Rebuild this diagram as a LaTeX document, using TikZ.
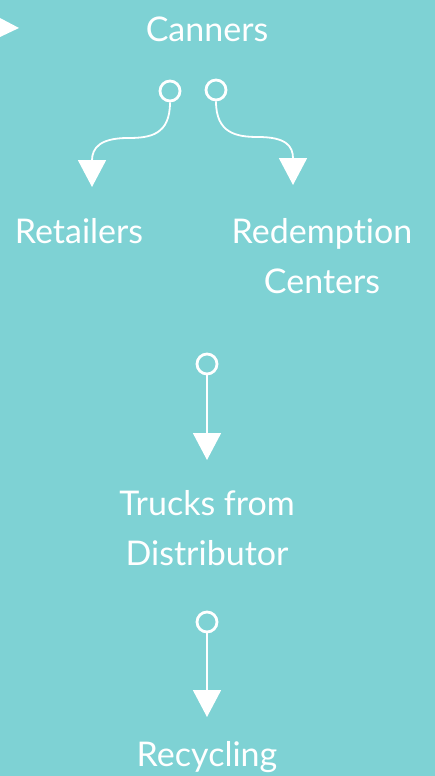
\documentclass[tikz,border=0pt]{standalone}
\usepackage{fontspec}
\setmainfont[Ligatures={NoCommon,NoRare}]{Lato}
\usetikzlibrary{arrows.meta}
\definecolor{bg}{RGB}{126,210,212}
\tikzset{
  lbl/.style={text=white, font=\fontsize{34}{34}\selectfont, anchor=base, inner sep=0pt},
  ring/.style={circle, draw=white, line width=2.8pt, minimum size=20pt, inner sep=0pt},
  conn/.style={draw=white, line width=1.8pt, -{Triangle[width=28pt,length=27pt]}},
}
\begin{document}
\begin{tikzpicture}[x=1pt,y=-1pt]
\fill[bg] (0,0) rectangle (435,776);
\useasboundingbox (0,0) rectangle (435,776);
\fill[white] (0,18) -- (19,28) -- (0,37) -- cycle;
\node[lbl] (canners) at (207,42) {Canners};
\node[ring] (c1) at (170,91) {};
\node[ring] (c2) at (216,90) {};
\coordinate (t1) at (92,187);
\coordinate (t2) at (293,185);
\draw[conn] (c1.south) .. controls (170,135) and (150,138) .. (128,138) .. controls (100,138) and (92,148) .. (t1);
\draw[conn] (c2.south) .. controls (216,133) and (236,137) .. (258,137) .. controls (286,137) and (293,146) .. (t2);
\node[lbl] (ret) at (79,243) {Retailers};
\node[lbl] (red1) at (322,243) {Redemption};
\node[lbl] (red2) at (322,293) {Centers};
\node[ring] (c3) at (207,364) {};
\coordinate (t3) at (207,460);
\draw[conn] (c3.south) -- (t3);
\node[lbl] (tr1) at (207,515) {Trucks from};
\node[lbl] (tr2) at (207,565) {Distributor};
\node[ring] (c4) at (207,622) {};
\coordinate (t4) at (207,717);
\draw[conn] (c4.south) -- (t4);
\node[lbl] (rec) at (207,766) {Recycling};
\end{tikzpicture}
\end{document}
